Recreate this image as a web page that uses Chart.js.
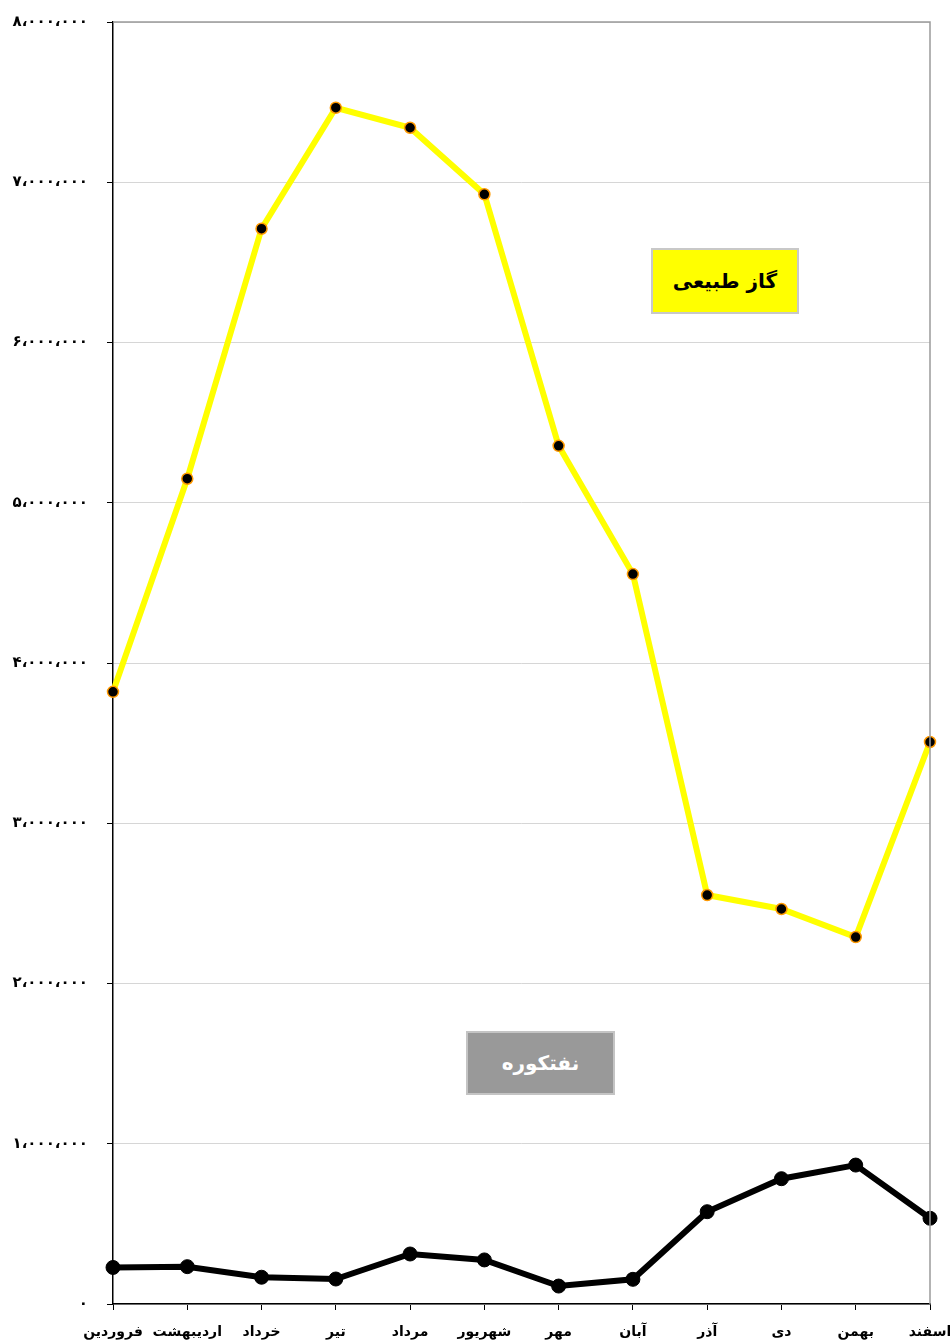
<!DOCTYPE html>
<html lang="fa">
<head>
<meta charset="utf-8">
<title>گاز طبیعی و نفتکوره</title>
<script src="https://cdn.jsdelivr.net/npm/chart.js@4.4.1/dist/chart.umd.min.js"></script>
<style>
  html, body { margin: 0; padding: 0; background: #fff; }
  #wrap { position: relative; width: 950px; height: 1344px; }
  .tag {
    position: absolute; box-sizing: border-box;
    display: flex; align-items: center; justify-content: center;
    font-family: "DejaVu Sans", sans-serif; font-weight: bold; font-size: 20px;
    direction: rtl;
  }
  #tagGas { left: 651px; top: 248px; width: 148px; height: 66px; background: #ffff00; border: 2px solid #c8c8c8; color: #000; }
  #tagOil { left: 466px; top: 1031px; width: 149px; height: 64px; background: #999999; border: 2px solid #c4c4c4; color: #fff; }
</style>
</head>
<body>
<div id="wrap">
  <canvas id="chart"></canvas>
  <div class="tag" id="tagGas">گاز طبیعی</div>
  <div class="tag" id="tagOil">نفتکوره</div>
</div>
<script>
// months of the Persian year
const months = ['فروردین', 'اردیبهشت', 'خرداد', 'تیر', 'مرداد', 'شهریور', 'مهر', 'آبان', 'آذر', 'دی', 'بهمن', 'اسفند'];

// natural gas consumption per month
const gasValues = [3820000, 5150000, 6710000, 7465000, 7340000, 6925000, 5355000, 4555000, 2552000, 2465000, 2290000, 3507000];

// fuel oil consumption per month
const oilValues = [228000, 233000, 167000, 156000, 312000, 275000, 112000, 154000, 576000, 782000, 867000, 535000];

const yMin = 0, yMax = 8000000, yStep = 1000000;

const faDigits = '۰۱۲۳۴۵۶۷۸۹';
function toFa(v) {
    return Number(v).toLocaleString('en-US').replace(/\d/g, d => faDigits[d]).replace(/,/g, '،');
}

document.addEventListener('DOMContentLoaded', function () {
    const canvas = document.getElementById('chart');
    const font = { family: '"DejaVu Sans", sans-serif', size: 15, weight: 'bold' };

    // grey frame on the top and right sides of the plot
    const frame = {
        id: 'frame',
        afterDraw(chart) {
            const a = chart.chartArea, c = chart.ctx;
            c.save();
            c.strokeStyle = '#9a9a9a';
            c.lineWidth = 1.5;
            c.beginPath();
            c.moveTo(a.left, a.top);
            c.lineTo(a.right, a.top);
            c.lineTo(a.right, a.bottom);
            c.stroke();
            c.restore();
        }
    };

    new Chart(canvas, {
        type: 'line',
        data: {
            labels: months,
            datasets: [
                {
                    label: 'گاز طبیعی',
                    data: gasValues,
                    borderColor: '#ffff00',
                    borderWidth: 6,
                    pointRadius: 5.5,
                    pointBackgroundColor: '#000',
                    pointBorderColor: '#ff9900',
                    pointBorderWidth: 1.5,
                    tension: 0,
                    clip: false
                },
                {
                    label: 'نفتکوره',
                    data: oilValues,
                    borderColor: '#000',
                    borderWidth: 6,
                    pointRadius: 7,
                    pointBackgroundColor: '#000',
                    pointBorderColor: '#000',
                    pointBorderWidth: 1,
                    tension: 0,
                    clip: false
                }
            ]
        },
        options: {
            responsive: true,
            maintainAspectRatio: false,
            animation: false,
            layout: { padding: { top: 22, right: 20, left: 0, bottom: 0 } },
            plugins: {
                legend: { display: false },
                tooltip: { enabled: false }
            },
            scales: {
                x: {
                    offset: false,
                    grid: { display: true, drawOnChartArea: false, tickLength: 6, tickColor: '#000' },
                    border: { color: '#000', width: 1.5 },
                    ticks: { color: '#000', font: { ...font, size: 14 }, padding: 14, maxRotation: 0, autoSkip: false },
                    afterFit: s => { s.height = 40; s.paddingLeft = 0; s.paddingRight = 0; }
                },
                y: {
                    min: yMin,
                    max: yMax,
                    grid: { color: '#d6d6d6', lineWidth: 1, tickLength: 6, tickColor: '#000' },
                    border: { color: '#000', width: 1.5 },
                    ticks: {
                        stepSize: yStep,
                        color: '#000',
                        font: font,
                        padding: 19,
                        callback: v => toFa(v)
                    },
                    afterFit: s => { s.width = 113; s.paddingTop = 0; s.paddingBottom = 0; }
                }
            }
        },
        plugins: [frame]
    });
});
</script>
</body>
</html>
